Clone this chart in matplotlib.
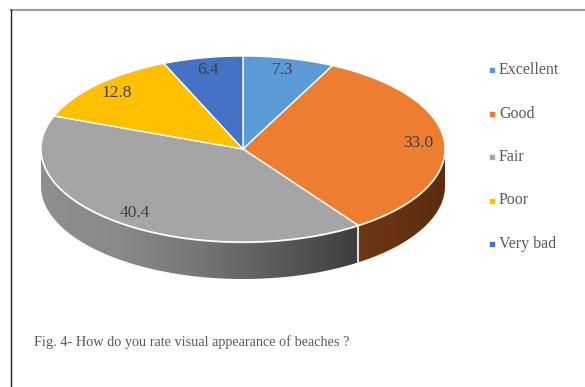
import numpy as np
import matplotlib.pyplot as plt
from matplotlib.patches import Polygon
from matplotlib.colors import LinearSegmentedColormap

# survey answers (percent)
labels = ['Excellent', 'Good', 'Fair', 'Poor', 'Very bad']
values = [7.3, 33.0, 40.4, 12.8, 6.4]
colors = ['#5b9bd5', '#ed7d31', '#a5a5a5', '#ffc000', '#4472c4']
# shading of the cylinder wall, left to right
side_shades = [
    ['#3a6a98', '#2c527a'],
    ['#6e3713', '#5c2d0e'],
    ['#8f8f8f', '#898989', '#767676', '#5a5a5a', '#3e3e3e'],
    ['#a07800', '#806000'],
    ['#2c4d8a', '#223c6e'],
]
caption = 'Fig. 4- How do you rate visual appearance of beaches ?'

plt.rcParams['font.family'] = ['Liberation Serif', 'DejaVu Serif']

fig = plt.figure(figsize=(5.85, 3.87), dpi=100)
ax = fig.add_axes([0, 0, 1, 1])
ax.set_xlim(0, 585)
ax.set_ylim(387, 0)
ax.axis('off')

# tilted pie geometry (pixel units)
cx, cy, rx, ry, depth = 243, 149, 202, 93, 37


def rim(t):
    t = np.radians(t)
    return cx + rx * np.sin(t), cy - ry * np.cos(t)


total = sum(values)
edges = np.concatenate([[0], np.cumsum(values)]) / total * 360

# side wall, only the front half (90..270 deg clockwise from top) shows
for i in range(len(values)):
    a0, a1 = max(edges[i], 90), min(edges[i + 1], 270)
    if a1 <= a0:
        continue
    t = np.linspace(a0, a1, 120)
    xs, ys = rim(t)
    pts = np.column_stack([np.r_[xs, xs[::-1]], np.r_[ys, ys[::-1] + depth]])
    poly = Polygon(pts, closed=True, facecolor='none', edgecolor='none')
    ax.add_patch(poly)
    cmap = LinearSegmentedColormap.from_list('side%d' % i, side_shades[i])
    grad = np.linspace(0, 1, 256)[None, :]
    im = ax.imshow(grad, cmap=cmap, aspect='auto',
                   extent=(xs.min(), xs.max(), ys.max() + depth, ys.min()),
                   zorder=1)
    im.set_clip_path(poly)
    if a0 > 90:
        x0, y0 = rim(a0)
        ax.plot([x0, x0], [y0, y0 + depth], color='white', lw=1.2, zorder=2)

# top face
for i in range(len(values)):
    t = np.linspace(edges[i], edges[i + 1], 200)
    xs, ys = rim(t)
    pts = np.column_stack([np.r_[cx, xs], np.r_[cy, ys]])
    ax.add_patch(Polygon(pts, closed=True, facecolor=colors[i],
                         edgecolor='white', lw=1.0, zorder=3))

# light rim along the front edge
t = np.linspace(92, 268, 200)
xs, ys = rim(t)
ax.plot(xs, ys + 0.5, color='white', lw=1.0, alpha=0.8, zorder=4)

# value labels
for i, v in enumerate(values):
    mid = (edges[i] + edges[i + 1]) / 2
    r = 0.87
    tm = np.radians(mid)
    x = cx + r * rx * np.sin(tm)
    y = cy - r * ry * np.cos(tm)
    ax.text(x, y, '%.1f' % v, ha='center', va='center', fontsize=12.5,
            color='#404040', zorder=5)

# legend
for i, lab in enumerate(labels):
    y = 70 + i * 43.5
    ax.scatter([492], [y], marker='s', s=5, color=colors[i], zorder=5)
    ax.text(499, y, lab, ha='left', va='center', fontsize=11.5, color='#595959')

ax.text(34, 342, caption, ha='left', va='center', fontsize=10.3, color='#595959')

# frame lines
ax.plot([10, 585], [9.5, 9.5], color='#a0a0a0', lw=1.6, solid_capstyle='butt')
ax.plot([10.5, 10.5], [9, 387], color='#222222', lw=1.0, solid_capstyle='butt')

fig.savefig('out.png', dpi=100)
